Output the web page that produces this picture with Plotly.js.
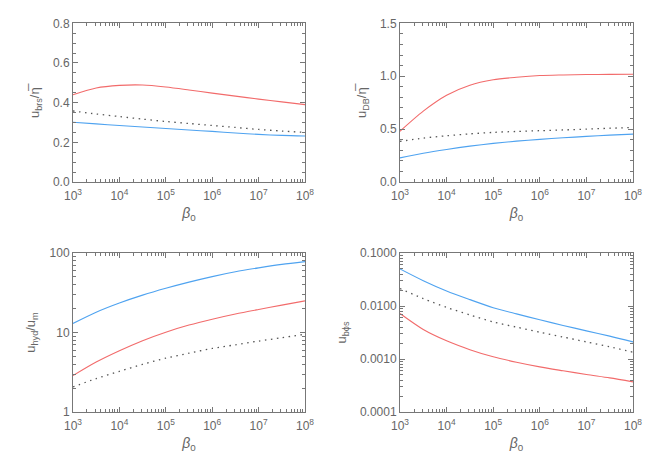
<!DOCTYPE html>
<html>
<head>
<meta charset="utf-8">
<script src="https://cdn.plot.ly/plotly-3.0.1.min.js"></script>
<style>html,body{margin:0;padding:0;background:#fff;}#chart{width:654px;height:458px;}</style>
</head>
<body>
<div id="chart"></div>
<script>
// beta_0 values (x, shared by all panels)
const beta = [1e3, 3.16e3, 1e4, 3.16e4, 1e5, 3.16e5, 1e6, 3.16e6, 1e7, 3.16e7, 1e8];

// Panel a: u_brs / eta
const brsRed    = [0.44, 0.474, 0.487, 0.489, 0.479, 0.464, 0.448, 0.433, 0.418, 0.404, 0.39];
const brsDotted = [0.358, 0.343, 0.33, 0.317, 0.305, 0.295, 0.285, 0.275, 0.265, 0.257, 0.25];
const brsBlue   = [0.301, 0.293, 0.285, 0.277, 0.27, 0.262, 0.255, 0.247, 0.24, 0.235, 0.232];

// Panel b: u_DB / eta
const dbRed    = [0.48, 0.67, 0.82, 0.915, 0.966, 0.99, 1.006, 1.012, 1.016, 1.017, 1.018];
const dbDotted = [0.384, 0.415, 0.437, 0.455, 0.469, 0.478, 0.485, 0.492, 0.5, 0.508, 0.516];
const dbBlue   = [0.228, 0.272, 0.308, 0.339, 0.365, 0.386, 0.403, 0.418, 0.431, 0.443, 0.453];

// Panel c: u_hyd / u_m
const hydBlue   = [13.0, 18.0, 23.5, 29.5, 36.0, 43.0, 50.5, 58.0, 65.0, 72.0, 78.0];
const hydRed    = [2.87, 4.25, 5.9, 7.9, 10.1, 12.4, 14.7, 17.1, 19.5, 22.1, 25.0];
const hydDotted = [2.07, 2.63, 3.25, 3.98, 4.75, 5.5, 6.3, 7.0, 7.8, 8.6, 9.5];

// Panel d: u_bphis
const bphiBlue   = [0.050, 0.030, 0.0192, 0.0132, 0.0093, 0.0071, 0.0055, 0.0043, 0.0034, 0.0027, 0.0021];
const bphiDotted = [0.0213, 0.0138, 0.0094, 0.0068, 0.0050, 0.0040, 0.0032, 0.0026, 0.0021, 0.0017, 0.00134];
const bphiRed    = [0.0072, 0.0036, 0.0022, 0.0015, 0.0011, 0.00087, 0.00071, 0.0006, 0.00051, 0.00044, 0.00037];

// Tick labels
const xTickVals = [1e3, 1e4, 1e5, 1e6, 1e7, 1e8];
const xTickText = ['10<sup>3</sup>', '10<sup>4</sup>', '10<sup>5</sup>', '10<sup>6</sup>', '10<sup>7</sup>', '10<sup>8</sup>'];
const brsTicks = [0.0, 0.2, 0.4, 0.6, 0.8];
const brsTickText = ['0.0', '0.2', '0.4', '0.6', '0.8'];
const dbTicks = [0.0, 0.5, 1.0, 1.5];
const dbTickText = ['0.0', '0.5', '1.0', '1.5'];
const hydTicks = [1, 10, 100];
const hydTickText = ['1', '10', '100'];
const bphiTicks = [0.0001, 0.001, 0.01, 0.1];
const bphiTickText = ['0.0001', '0.0010', '0.0100', '0.1000'];

const RED = '#f26b6b', BLUE = '#4fa3f0', DOT = '#555555';

function tr(y, color, dash, xa, ya) {
  return {x: beta, y: y, type: 'scatter', mode: 'lines', xaxis: xa, yaxis: ya,
    line: {color: color, width: dash ? 1.3 : 1.1, dash: dash ? '1.5px,4.5px' : 'solid', shape: 'spline', smoothing: 0.8},
    showlegend: false, hoverinfo: 'skip'};
}

const data = [
  tr(brsRed, RED, false, 'x', 'y'), tr(brsDotted, DOT, true, 'x', 'y'), tr(brsBlue, BLUE, false, 'x', 'y'),
  tr(dbRed, RED, false, 'x2', 'y2'), tr(dbDotted, DOT, true, 'x2', 'y2'), tr(dbBlue, BLUE, false, 'x2', 'y2'),
  tr(hydBlue, BLUE, false, 'x3', 'y3'), tr(hydRed, RED, false, 'x3', 'y3'), tr(hydDotted, DOT, true, 'x3', 'y3'),
  tr(bphiBlue, BLUE, false, 'x4', 'y4'), tr(bphiDotted, DOT, true, 'x4', 'y4'), tr(bphiRed, RED, false, 'x4', 'y4')
];

const FONT = 'Liberation Sans, Arial, sans-serif';
const GRAY = '#666666';
const AXC = '#777777';

function xaxis(domain, anchor) {
  const mv = [];
  for (let e = 3; e < 8; e++) for (let k = 2; k <= 9; k++) mv.push(k * Math.pow(10, e));
  return {domain: domain, anchor: anchor, type: 'log', range: [3, 8],
    tickvals: xTickVals, ticktext: xTickText,
    ticks: 'inside', ticklen: 5, tickwidth: 1, tickcolor: AXC,
    minor: {ticks: 'inside', ticklen: 3, tickcolor: AXC, tickvals: mv},
    showline: true, linecolor: AXC, linewidth: 1, mirror: 'allticks',
    showgrid: false, zeroline: false, ticklabelstandoff: 3,
    tickfont: {family: FONT, size: 12, color: GRAY},
    title: {text: '<i>β</i><sub>0</sub>', font: {family: FONT, size: 14, color: GRAY}, standoff: 5}};
}

function yaxisLin(domain, anchor, range, tv, tt, minorD, title) {
  return {domain: domain, anchor: anchor, range: range,
    tickvals: tv, ticktext: tt,
    ticks: 'inside', ticklen: 5, tickwidth: 1, tickcolor: AXC,
    minor: {ticks: 'inside', ticklen: 3, tickcolor: AXC, dtick: minorD},
    showline: true, linecolor: AXC, linewidth: 1, mirror: 'allticks',
    showgrid: false, zeroline: false,
    tickfont: {family: FONT, size: 12, color: GRAY},
    title: {text: title, font: {family: FONT, size: 13, color: GRAY}, standoff: 10}};
}

function yaxisLog(domain, anchor, range, tv, tt, title) {
  const mv = [];
  for (let e = Math.floor(range[0]); e < range[1]; e++) {
    for (let k = 2; k <= 9; k++) mv.push(k * Math.pow(10, e));
  }
  return {domain: domain, anchor: anchor, type: 'log', range: range,
    tickvals: tv, ticktext: tt,
    ticks: 'inside', ticklen: 5, tickwidth: 1, tickcolor: AXC,
    minor: {ticks: 'inside', ticklen: 3, tickcolor: AXC, tickvals: mv},
    showline: true, linecolor: AXC, linewidth: 1, mirror: 'allticks',
    showgrid: false, zeroline: false,
    tickfont: {family: FONT, size: 12, color: GRAY},
    title: {text: title, font: {family: FONT, size: 13, color: GRAY}, standoff: 10}};
}

const dxL = [0.1116, 0.4664], dxR = [0.6116, 0.9679];
const dyT = [0.6026, 0.9491], dyB = [0.1004, 0.4476];

const layout = {
  width: 654, height: 458,
  margin: {l: 0, r: 0, t: 0, b: 0},
  paper_bgcolor: '#ffffff', plot_bgcolor: '#ffffff',
  showlegend: false,
  xaxis: xaxis(dxL, 'y'),
  yaxis: yaxisLin(dyT, 'x', [0, 0.8], brsTicks, brsTickText, 0.05, 'u<sub>brs</sub>/η̅'),
  xaxis2: xaxis(dxR, 'y2'),
  yaxis2: yaxisLin(dyT, 'x2', [0, 1.5], dbTicks, dbTickText, 0.1, 'u<sub>DB</sub>/η̅'),
  xaxis3: xaxis(dxL, 'y3'),
  yaxis3: yaxisLog(dyB, 'x3', [0, 2], hydTicks, hydTickText, 'u<sub>hyd</sub>/u<sub>m</sub>'),
  xaxis4: xaxis(dxR, 'y4'),
  yaxis4: yaxisLog(dyB, 'x4', [-4, -1], bphiTicks, bphiTickText, 'u<sub>bϕs</sub>')
};

Plotly.newPlot('chart', data, layout, {staticPlot: true, displayModeBar: false});
</script>
</body>
</html>
